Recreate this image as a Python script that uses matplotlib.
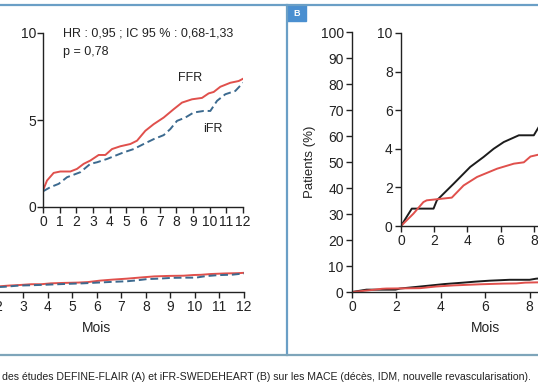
import matplotlib
matplotlib.use("Agg")
import matplotlib.pyplot as plt
from matplotlib.patches import Rectangle
from matplotlib.lines import Line2D

plt.rcParams['font.family'] = ['Liberation Sans', 'DejaVu Sans']

# ---- Data ----
# Panel A (DEFINE-FLAIR): months, cumulative MACE (%)
a_ffr_x = [0, 0.24, 0.64, 1.04, 1.64, 2.04, 2.44, 2.84, 3.34, 3.74, 4.14, 4.64, 5.24, 5.64,
           6.14, 6.64, 7.24, 7.84, 8.34, 8.94, 9.54, 9.94, 10.24, 10.64, 11.24, 11.74, 12]
a_ffr_y = [0.95, 1.52, 1.96, 2.04, 2.04, 2.19, 2.48, 2.67, 2.99, 2.99, 3.33, 3.49, 3.62, 3.81,
           4.38, 4.76, 5.14, 5.62, 6.0, 6.19, 6.27, 6.53, 6.61, 6.91, 7.14, 7.24, 7.37]
a_ifr_x = [0, 0.44, 0.94, 1.44, 2.24, 2.84, 3.24, 3.84, 4.34, 4.84, 5.44, 6.04, 6.64, 7.24,
           7.64, 8.04, 8.54, 9.04, 9.64, 10.04, 10.44, 10.94, 11.54, 12]
a_ifr_y = [0.9, 1.14, 1.33, 1.71, 2.0, 2.48, 2.57, 2.76, 2.95, 3.14, 3.33, 3.62, 3.9, 4.13,
           4.48, 4.95, 5.14, 5.43, 5.52, 5.52, 6.1, 6.48, 6.67, 7.14]

# Panel B (iFR-SWEDEHEART)
b_black_x = [0, 0.65, 1.96, 2.16, 3.17, 4.17, 4.98, 5.58, 6.19, 7.1, 8.0, 8.3, 8.6]
b_black_y = [0, 0.9, 0.9, 1.33, 2.19, 3.06, 3.58, 4.0, 4.35, 4.7, 4.7, 5.13, 5.3]
b_red_x = [0, 0.75, 1.35, 1.55, 3.06, 3.77, 4.58, 5.79, 6.8, 7.4, 7.8, 8.3, 8.6]
b_red_y = [0, 0.64, 1.24, 1.33, 1.47, 2.1, 2.54, 2.97, 3.23, 3.3, 3.6, 3.7, 3.75]

main_a_xticks = list(range(0, 13))
inset_a_xticks = list(range(0, 13))
inset_a_yticks = [0, 5, 10]
main_b_xticks = [0, 2, 4, 6, 8, 10, 12]
main_b_yticks = list(range(0, 101, 10))
inset_b_xticks = [0, 2, 4, 6, 8, 10, 12]
inset_b_yticks = [0, 2, 4, 6, 8, 10]

caption = ("des études DEFINE-FLAIR (A) et iFR-SWEDEHEART (B) sur les MACE "
           "(décès, IDM, nouvelle revascularisation).")

# ---- Figure ----
W, H = 538, 384
fig = plt.figure(figsize=(W / 100, H / 100), dpi=100, facecolor='white')

RED = '#e0504c'
BLUE = '#3c6a8f'
BLACK = '#1c1c1c'
TXT = '#222222'
FS = 10


def ax_px(x0, y0, x1, y1):
    """axes from pixel box (x0,y0 top-left, x1,y1 bottom-right)"""
    return fig.add_axes([x0 / W, 1 - y1 / H, (x1 - x0) / W, (y1 - y0) / H])


def style(ax):
    ax.set_facecolor('none')
    for s in ('top', 'right'):
        ax.spines[s].set_visible(False)
    for s in ('left', 'bottom'):
        ax.spines[s].set_linewidth(1.0)
        ax.spines[s].set_color(TXT)
    ax.tick_params(direction='out', length=4, width=1.0, colors=TXT,
                   labelsize=FS, pad=2)


# Panel A main axes (0-100 %)
axA = ax_px(-50.7, 32, 244, 292)
style(axA)
axA.plot(a_ffr_x, a_ffr_y, color=RED, lw=1.4)
axA.plot(a_ifr_x, a_ifr_y, color=BLUE, lw=1.4, ls=(0, (4, 2)))
axA.set_xlim(0, 12)
axA.set_ylim(0, 100)
axA.set_xticks(main_a_xticks)
axA.set_yticks([])
axA.set_xlabel('Mois', fontsize=FS, color=TXT, labelpad=5)

# Panel A inset (0-10 %)
axAi = ax_px(43, 33, 243, 207)
style(axAi)
axAi.plot(a_ffr_x, a_ffr_y, color=RED, lw=1.4)
axAi.plot(a_ifr_x, a_ifr_y, color=BLUE, lw=1.4, ls=(0, (4, 2)))
axAi.set_xlim(0, 12)
axAi.set_ylim(0, 10)
axAi.set_xticks(inset_a_xticks)
axAi.set_yticks(inset_a_yticks)
axAi.tick_params(axis='y', pad=1)
ANN = 9
axAi.text(63 / W, 1 - 33 / H, 'HR : 0,95 ; IC 95 % : 0,68-1,33', transform=fig.transFigure,
          fontsize=ANN, color=TXT, va='center', ha='left')
axAi.text(63 / W, 1 - 52 / H, 'p = 0,78', transform=fig.transFigure,
          fontsize=ANN, color=TXT, va='center', ha='left')
axAi.text(178 / W, 1 - 78 / H, 'FFR', transform=fig.transFigure,
          fontsize=ANN, color=TXT, va='center', ha='left')
axAi.text(203 / W, 1 - 129 / H, 'iFR', transform=fig.transFigure,
          fontsize=ANN, color=TXT, va='center', ha='left')

# Panel B main axes
axB = ax_px(352, 32, 352 + 266.4, 292)
style(axB)
axB.plot(b_black_x, b_black_y, color=BLACK, lw=1.4)
axB.plot(b_red_x, b_red_y, color=RED, lw=1.4)
axB.set_xlim(0, 12)
axB.set_ylim(0, 100)
axB.set_xticks(main_b_xticks)
axB.set_yticks(main_b_yticks)
axB.set_xlabel('Mois', fontsize=FS, color=TXT, labelpad=5)
axB.set_ylabel('Patients (%)', fontsize=9.5, color=TXT, labelpad=3)

# Panel B inset
axBi = ax_px(401, 33, 401 + 199.2, 226)
style(axBi)
axBi.plot(b_black_x, b_black_y, color=BLACK, lw=1.4)
axBi.plot(b_red_x, b_red_y, color=RED, lw=1.4)
axBi.set_xlim(0, 12)
axBi.set_ylim(0, 10)
axBi.set_xticks(inset_b_xticks)
axBi.set_yticks(inset_b_yticks)

# Frame lines
FRAME = '#6a9fc6'
fig.add_artist(Line2D([0, 1], [1 - 5 / H, 1 - 5 / H], color=FRAME, lw=1.6,
                      transform=fig.transFigure))
fig.add_artist(Line2D([287 / W, 287 / W], [1 - 5 / H, 1 - 355 / H], color=FRAME, lw=1.6,
                      transform=fig.transFigure))
fig.add_artist(Line2D([0, 1], [1 - 355 / H, 1 - 355 / H], color='#7ea5ba', lw=1.6,
                      transform=fig.transFigure))
fig.add_artist(Rectangle((287 / W, 1 - 21 / H), 19 / W, 16 / H, color='#4a8fd0',
                         transform=fig.transFigure))
fig.text(296.5 / W, 1 - 13 / H, 'B', color='white', fontsize=6.5, fontweight='bold',
         ha='center', va='center')

fig.text(2 / W, 1 - 377 / H, caption, fontsize=7.55, color=TXT, ha='left', va='center')

fig.savefig('out.png', dpi=100, facecolor='white')
